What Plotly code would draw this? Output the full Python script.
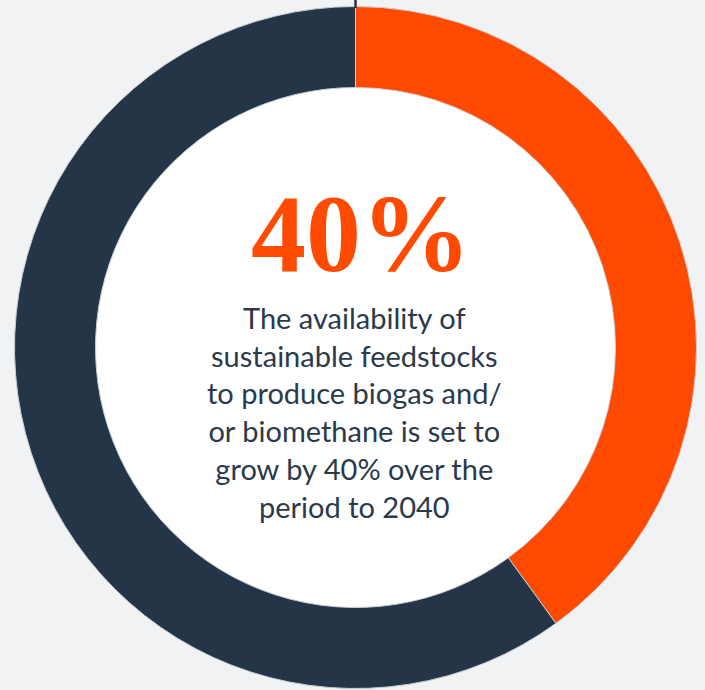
import plotly.graph_objects as go

labels = ["Growth", "Rest"]
values = [40, 60]
colors = ["#FF4A00", "#243547"]
headline = "40%"
body_lines = [
    "The availability of",
    "sustainable feedstocks",
    "to produce biogas and/",
    "or biomethane is set to",
    "grow by 40% over the",
    "period to 2040",
]

W, H = 705, 690
cx, cy, R = 355.5, 347.5, 341
hole = 260 / 341

fig = go.Figure()
fig.add_trace(go.Pie(
    labels=labels, values=values, sort=False, direction="clockwise", rotation=0,
    hole=hole, textinfo="none", hoverinfo="label+percent", showlegend=False,
    marker=dict(colors=colors, line=dict(color="#c9ced4", width=1)),
    domain=dict(x=[(cx - R) / W, (cx + R) / W], y=[1 - (cy + R) / H, 1 - (cy - R) / H]),
))

ri = R * hole + 3
fig.add_shape(type="circle", xref="paper", yref="paper", layer="below",
              x0=(cx - ri) / W, x1=(cx + ri) / W, y0=1 - (cy + ri) / H, y1=1 - (cy - ri) / H,
              fillcolor="white", line=dict(width=0))
fig.add_shape(type="line", xref="paper", yref="paper", layer="above",
              x0=cx / W, x1=cx / W, y0=1.0, y1=1 - 8 / H,
              line=dict(color="#243547", width=2.5))

fig.add_annotation(text="<b>" + headline + "</b>", x=361 / W, y=1 - 234 / H, xref="paper", yref="paper",
                   xanchor="center", yanchor="middle", showarrow=False,
                   font=dict(family="Liberation Serif", size=110, color="#FF4A00"))
fig.add_annotation(text="<br>".join(body_lines), x=355 / W, y=1 - 412 / H, xref="paper", yref="paper",
                   xanchor="center", yanchor="middle", showarrow=False, align="center",
                   font=dict(family="Lato", size=29, color="#2a3a4b"))

fig.update_layout(width=W, height=H, margin=dict(l=0, r=0, t=0, b=0),
                  paper_bgcolor="#F1F2F4", plot_bgcolor="#F1F2F4")
fig.write_html("out.html", config={"displayModeBar": False},
               post_script="document.body.style.margin='0';")
